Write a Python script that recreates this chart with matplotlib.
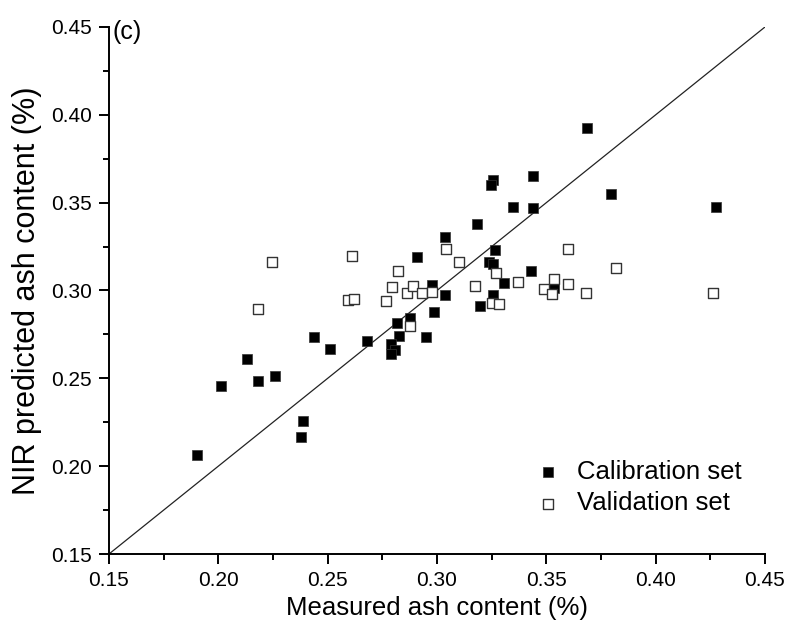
import matplotlib.pyplot as plt
from matplotlib.ticker import MultipleLocator

plt.rcParams['font.family'] = ['Liberation Sans', 'DejaVu Sans']

# calibration set: measured vs NIR predicted ash content (%)
cal_measured = [0.3181, 0.3037, 0.2907, 0.2978, 0.3037, 0.3197, 0.2986, 0.2818,
                0.2877, 0.2826, 0.2948, 0.2678, 0.2788, 0.2808, 0.2788, 0.2439,
                0.2509, 0.2130, 0.2011, 0.2180, 0.2259, 0.2389, 0.2378, 0.1901,
                0.3686, 0.3438, 0.3257, 0.3247, 0.3346, 0.3438, 0.3796, 0.4274,
                0.3267, 0.3238, 0.3257, 0.3428, 0.3306, 0.3257, 0.3536]
cal_predicted = [0.3379, 0.3303, 0.3189, 0.3031, 0.2974, 0.2912, 0.2878, 0.2817,
                 0.2842, 0.2741, 0.2737, 0.2713, 0.2695, 0.2661, 0.2639, 0.2737,
                 0.2669, 0.2610, 0.2456, 0.2485, 0.2515, 0.2259, 0.2166, 0.2065,
                 0.3925, 0.3652, 0.3627, 0.3599, 0.3477, 0.3470, 0.3549, 0.3477,
                 0.3232, 0.3164, 0.3151, 0.3111, 0.3044, 0.2973, 0.3013]

# validation set
val_measured = [0.2245, 0.2610, 0.2183, 0.2823, 0.2796, 0.2861, 0.2892, 0.2933,
                0.2978, 0.3041, 0.3102, 0.3172, 0.2592, 0.2620, 0.2765, 0.2877,
                0.3270, 0.3600, 0.3820, 0.3370, 0.3491, 0.3535, 0.3524, 0.3600,
                0.3683, 0.4264, 0.3250, 0.3283]
val_predicted = [0.3161, 0.3195, 0.2893, 0.3111, 0.3018, 0.2984, 0.3026, 0.2984,
                 0.2993, 0.3236, 0.3162, 0.3026, 0.2944, 0.2950, 0.2942, 0.2798,
                 0.3098, 0.3236, 0.3130, 0.3048, 0.3010, 0.3065, 0.2978, 0.3037,
                 0.2984, 0.2984, 0.2927, 0.2923]

lims = [0.15, 0.45]

fig = plt.figure(figsize=(7.88, 6.32), dpi=100)
ax = fig.add_axes([0.1383, 0.1234, 0.8325, 0.8339])

# 1:1 line
ax.plot(lims, lims, color='#222222', lw=0.9, zorder=1)

ax.scatter(cal_measured, cal_predicted, marker='s', s=52, color='black',
           edgecolors='#333333', linewidths=0.5, zorder=2, label='Calibration set')
ax.scatter(val_measured, val_predicted, marker='s', s=52, facecolors='white',
           edgecolors='#333333', linewidths=1.0, zorder=3, label='Validation set')

ax.set_xlim(lims)
ax.set_ylim(lims)
ax.xaxis.set_major_locator(MultipleLocator(0.05))
ax.yaxis.set_major_locator(MultipleLocator(0.05))
ax.xaxis.set_minor_locator(MultipleLocator(0.025))
ax.yaxis.set_minor_locator(MultipleLocator(0.025))
ax.xaxis.set_major_formatter(plt.FormatStrFormatter('%.2f'))
ax.yaxis.set_major_formatter(plt.FormatStrFormatter('%.2f'))

for side in ['top', 'right']:
    ax.spines[side].set_visible(False)
for side in ['left', 'bottom']:
    ax.spines[side].set_linewidth(1.4)
ax.tick_params(which='major', direction='out', length=7.5, width=1.4,
               labelsize=15, pad=5)
ax.tick_params(which='minor', direction='out', length=4.5, width=1.4)

ax.set_xlabel('Measured ash content (%)', fontsize=18.5, labelpad=4)
ax.set_ylabel('NIR predicted ash content (%)', fontsize=22, labelpad=6)

ax.text(0.006, 1.014, '(c)', transform=ax.transAxes, fontsize=18,
        ha='left', va='top')

ax.legend(loc='upper left', bbox_to_anchor=(0.63, 0.178), frameon=False,
          fontsize=18.5, handletextpad=0.12, labelspacing=0.28, markerscale=0.95,
          borderaxespad=0, borderpad=0)

fig.savefig('out.png', dpi=100)
